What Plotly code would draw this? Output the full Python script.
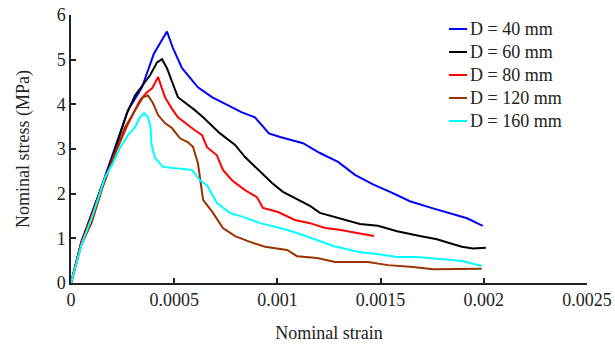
import plotly.graph_objects as go

# ---- data ----
labels = ["D = 40 mm", "D = 60 mm", "D = 80 mm", "D = 120 mm", "D = 160 mm"]
colors = ["#0000FF", "#000000", "#FF0000", "#993300", "#00FFFF"]

x40 = [0, 0.00005, 0.000126, 0.000199, 0.000276, 0.000344, 0.000402, 0.000465, 0.000494,
       0.000538, 0.000615, 0.000683, 0.000756, 0.000828, 0.000891, 0.000959, 0.001013,
       0.001124, 0.001206, 0.001294, 0.001376, 0.001463, 0.001546, 0.001642, 0.001754,
       0.001846, 0.001919, 0.001995]
y40 = [0, 0.92, 1.86, 2.86, 3.87, 4.38, 5.14, 5.63, 5.26, 4.81, 4.38, 4.16, 3.98, 3.82,
       3.71, 3.35, 3.27, 3.13, 2.91, 2.71, 2.42, 2.21, 2.04, 1.83, 1.67, 1.54, 1.45, 1.28]

x60 = [0, 0.00005, 0.00012, 0.0002, 0.000271, 0.00031, 0.000383, 0.000417, 0.000441,
       0.000465, 0.00049, 0.000518, 0.0006, 0.00064, 0.000722, 0.000795, 0.000843,
       0.000906, 0.000974, 0.001027, 0.0011, 0.00116, 0.001206, 0.0013, 0.0014, 0.001487,
       0.00158, 0.00169, 0.001773, 0.001836, 0.001894, 0.001948, 0.00201]
y60 = [0, 0.9, 1.8, 2.8, 3.8, 4.2, 4.65, 4.94, 5.01, 4.81, 4.5, 4.16, 3.87, 3.71, 3.35,
       3.09, 2.82, 2.53, 2.24, 2.04, 1.86, 1.72, 1.57, 1.45, 1.32, 1.28, 1.16, 1.05, 0.98,
       0.89, 0.81, 0.77, 0.79]

x80 = [0, 0.00005, 0.00012, 0.0002, 0.00027, 0.000334, 0.000368, 0.000393, 0.000422,
       0.000455, 0.000488, 0.000518, 0.0006, 0.000635, 0.000659, 0.000707, 0.000736,
       0.00078, 0.000843, 0.000901, 0.00093, 0.001003, 0.001085, 0.001158, 0.001231,
       0.0013, 0.001386, 0.001468]
y80 = [0, 0.9, 1.75, 2.75, 3.5, 4.09, 4.27, 4.36, 4.61, 4.16, 3.91, 3.71, 3.42, 3.31,
       3.04, 2.86, 2.53, 2.30, 2.08, 1.92, 1.68, 1.59, 1.41, 1.34, 1.23, 1.19, 1.12, 1.05]

x120 = [0, 0.00005, 0.0001, 0.00015, 0.0002, 0.000262, 0.00032, 0.000349, 0.000373,
        0.000397, 0.000422, 0.000455, 0.000489, 0.000528, 0.000567, 0.000591, 0.000615,
        0.00064, 0.000688, 0.000736, 0.000795, 0.000867, 0.00094, 0.001047, 0.001095,
        0.001192, 0.001279, 0.001439, 0.001536, 0.001657, 0.001754, 0.001885, 0.00199]
y120 = [0, 0.85, 1.35, 2.1, 2.75, 3.49, 3.94, 4.16, 4.2, 4.03, 3.76, 3.58, 3.47, 3.24,
        3.15, 3.05, 2.68, 1.86, 1.57, 1.23, 1.05, 0.92, 0.81, 0.74, 0.6, 0.56, 0.47, 0.47,
        0.40, 0.36, 0.31, 0.32, 0.32]

x160 = [0, 0.00005, 0.0001, 0.000165, 0.000203, 0.000237, 0.000276, 0.00031, 0.000334,
        0.000354, 0.000373, 0.000385, 0.00039, 0.000407, 0.000446, 0.000528, 0.000586,
        0.000625, 0.000659, 0.000707, 0.00077, 0.000833, 0.000916, 0.000998, 0.001061,
        0.001158, 0.00127, 0.0014, 0.001483, 0.00158, 0.001676, 0.001788, 0.001894, 0.00199]
y160 = [0, 0.85, 1.45, 2.37, 2.68, 3.02, 3.31, 3.49, 3.71, 3.80, 3.71, 3.5, 3.1, 2.80,
        2.60, 2.55, 2.53, 2.30, 2.19, 1.79, 1.57, 1.48, 1.34, 1.25, 1.17, 1.02, 0.83, 0.69,
        0.65, 0.58, 0.58, 0.54, 0.49, 0.38]

x_ticks = [0, 0.0005, 0.001, 0.0015, 0.002, 0.0025]
x_ticktext = ["0", "0.0005", "0.001", "0.0015", "0.002", "0.0025"]
y_ticks = [0, 1, 2, 3, 4, 5, 6]

series = [(x40, y40), (x60, y60), (x80, y80), (x120, y120), (x160, y160)]

FONT = "Liberation Serif, Times New Roman, serif"
INK = "#222222"

# plot-area geometry (px)
W, H = 615, 344
ML, MR, MT, MB = 71, 28, 15, 61
PW, PH = W - ML - MR, H - MT - MB

fig = go.Figure()
for (xs, ys), name, c in zip(series, labels, colors):
    fig.add_trace(go.Scatter(x=xs, y=ys, mode="lines", name=name, showlegend=False,
                             line=dict(color=c, width=2)))

# legend drawn in the upper right corner (short line sample + label)
leg_x0, leg_x1, leg_text = 449, 467, 468
leg_rows = [29, 52, 75, 98, 121]
for name, c, py in zip(labels, colors, leg_rows):
    yp = (H - MB - py) / PH
    fig.add_shape(type="line", xref="paper", yref="paper",
                  x0=(leg_x0 - ML) / PW, x1=(leg_x1 - ML) / PW, y0=yp, y1=yp,
                  line=dict(color=c, width=2))
    fig.add_annotation(xref="paper", yref="paper", x=(leg_text - ML) / PW, y=yp,
                       xanchor="left", yanchor="middle", showarrow=False, text=name,
                       font=dict(family=FONT, size=18, color=INK))

axis_common = dict(showline=True, linecolor=INK, linewidth=1.5,
                   ticks="inside", ticklen=5, tickwidth=1.5, tickcolor=INK,
                   showgrid=False, zeroline=False, mirror=False, automargin=False,
                   tickfont=dict(family=FONT, size=18, color=INK))

fig.update_layout(
    width=W, height=H,
    margin=dict(l=ML, r=MR, t=MT, b=MB),
    paper_bgcolor="white", plot_bgcolor="white",
    font=dict(family=FONT, size=18, color=INK),
    showlegend=False,
    xaxis=dict(range=[0, 0.0025], tickvals=x_ticks, ticktext=x_ticktext,
               title=dict(text="Nominal strain", font=dict(family=FONT, size=18), standoff=17),
               **axis_common),
    yaxis=dict(range=[0, 6], tickvals=y_ticks,
               title=dict(text="Nominal stress (MPa)", font=dict(family=FONT, size=18), standoff=22),
               **axis_common),
)

fig.write_html("out.html", config={"displayModeBar": False},
               post_script="document.body.style.margin='0';document.body.style.overflow='hidden';")
